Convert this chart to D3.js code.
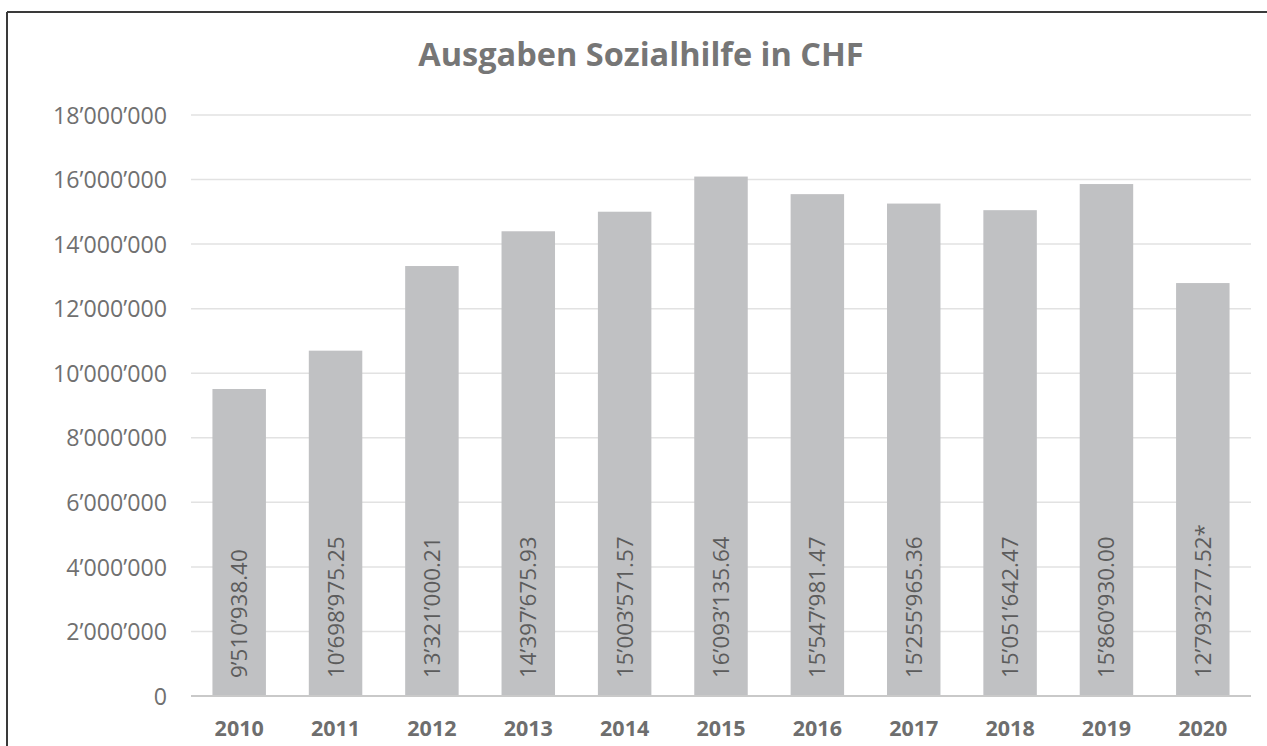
<!DOCTYPE html>
<html>
<head>
<meta charset="utf-8">
<script src="https://cdn.jsdelivr.net/npm/d3@7"></script>
<style>
  html, body { margin: 0; padding: 0; background: #fff; }
  svg { display: block; }
  text { font-family: "Open Sans", "Noto Sans", sans-serif; }
</style>
</head>
<body>
<svg id="chart" width="1267" height="746"></svg>
<script>
const title = "Ausgaben Sozialhilfe in CHF";
const years = ["2010","2011","2012","2013","2014","2015","2016","2017","2018","2019","2020"];
const values = [9510938.40, 10698975.25, 13321000.21, 14397675.93, 15003571.57, 16093135.64, 15547981.47, 15255965.36, 15051642.47, 15860930.00, 12793277.52];
const notes = ["","","","","","","","","","","*"];
const yTicks = [0, 2000000, 4000000, 6000000, 8000000, 10000000, 12000000, 14000000, 16000000, 18000000];

const svg = d3.select("#chart");
const W = 1267, H = 746;
const plot = { left: 191, right: 1251, top: 115, bottom: 696 };

const loc = d3.formatLocale({ decimal: ".", thousands: "\u2019", grouping: [3], currency: ["", ""] });
const fmtTick = loc.format(",d");
const fmtVal = loc.format(",.2f");

// border (top and left only visible)
svg.append("line").attr("x1", 7).attr("x2", W).attr("y1", 12).attr("y2", 12)
  .attr("stroke", "#3a3a3a").attr("stroke-width", 2);
svg.append("line").attr("x1", 7).attr("x2", 7).attr("y1", 12).attr("y2", H)
  .attr("stroke", "#3a3a3a").attr("stroke-width", 2);

const x = d3.scaleBand().domain(years).range([plot.left, plot.right])
  .paddingInner(0.445).paddingOuter(0.2225);
const y = d3.scaleLinear().domain([0, 18000000]).range([plot.bottom, plot.top]);

// gridlines
svg.append("g").selectAll("line").data(yTicks.filter(d => d > 0)).join("line")
  .attr("x1", plot.left).attr("x2", plot.right)
  .attr("y1", d => y(d)).attr("y2", d => y(d))
  .attr("stroke", "#e2e2e2").attr("stroke-width", 1.5);

// y axis labels
const yAxis = d3.axisLeft(y).tickValues(yTicks).tickFormat(fmtTick).tickSize(0).tickPadding(0);
const gy = svg.append("g").attr("transform", `translate(167,0)`).call(yAxis);
gy.select(".domain").remove();
gy.selectAll("text").attr("fill", "#707070").style("font-size", "23.2px")
  .attr("dy", "0.35em");

// bars
svg.append("g").selectAll("rect").data(values).join("rect")
  .attr("x", (d, i) => x(years[i]))
  .attr("width", x.bandwidth())
  .attr("y", d => y(d))
  .attr("height", d => y(0) - y(d))
  .attr("fill", "#c0c1c3");

// baseline axis
const xAxis = d3.axisBottom(x).tickSize(0).tickPadding(0);
const gx = svg.append("g").attr("transform", `translate(0,${plot.bottom})`).call(xAxis);
gx.select(".domain").attr("stroke", "#c9c9c9").attr("stroke-width", 2)
  .attr("d", `M${plot.left},0H${plot.right}`);
gx.selectAll("text").attr("fill", "#6e6e6e").style("font-size", "21.5px")
  .style("font-weight", "bold").attr("dy", "0").attr("y", 40);

// value labels inside bars, rotated
svg.append("g").selectAll("text").data(values).join("text")
  .attr("transform", (d, i) => `translate(${x(years[i]) + x.bandwidth() / 2 + 8},${plot.bottom - 18}) rotate(-90)`)
  .attr("text-anchor", "start")
  .attr("fill", "#5c5c5c")
  .style("font-size", "22.4px")
  .text((d, i) => fmtVal(d) + notes[i]);

// title
svg.append("text").attr("x", 641).attr("y", 66).attr("text-anchor", "middle")
  .attr("fill", "#767676").style("font-size", "32.5px").style("font-weight", "bold")
  .text(title);
</script>
</body>
</html>
